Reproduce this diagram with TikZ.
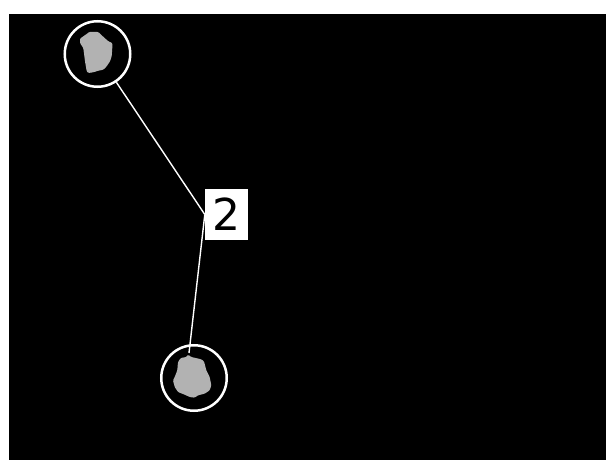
\documentclass[tikz,border=0pt]{standalone}
\usepackage{fontspec}
\newfontfamily\labfont{DejaVu Sans}
\definecolor{blobgray}{RGB}{178,178,178}
\begin{document}
\begin{tikzpicture}[x=1pt,y=-1pt,
  ring/.style={circle,draw=white,line width=2.5pt,minimum size=65.5pt,inner sep=0pt},
  blob/.style={fill=blobgray,draw=none,rounded corners=1pt},
  link/.style={draw=white,line width=1.4pt},
  lab/.style={fill=white,text=black,inner sep=0pt,minimum width=43pt,minimum height=51pt,font=\labfont\fontsize{44}{44}\selectfont}]
\useasboundingbox (0,0) rectangle (606,460);
\fill[white] (0,0) rectangle (606,460);
\fill[black] (9,14) rectangle (606,460);
% blobs
\fill[blob] (89,32) -- (98.3,32) -- (101.7,35.3) -- (108.3,41.3) -- (112.3,43) -- (112.3,48) -- (111.7,56.3) -- (110,61.3) -- (106.7,66.3) -- (103.3,69.7) -- (98.3,70.7) -- (93.3,72.3) -- (88.3,73) -- (86.7,71.3) -- (85,61.3) -- (83.3,48) -- (80,43) -- (80,38.7) -- (83.3,36.3) -- (86.7,34) -- cycle;
\fill[blob] (180.7,358) -- (186.3,357) -- (188,354.7) -- (191.3,357) -- (201.3,359.3) -- (204,361.3) -- (206.3,370.3) -- (209.7,377) -- (211.3,385.3) -- (209.7,390.3) -- (204.7,393.7) -- (198,395.3) -- (194.7,397.7) -- (189.7,397) -- (184.7,394.7) -- (178,392) -- (174.7,387) -- (173,380.3) -- (174.7,377) -- (177.3,370.3) -- (178,362) -- cycle;
% rings
\node[ring] (c1) at (97.5,54) {};
\node[ring] (c2) at (194,378) {};
% label
\node[lab] (l) at (226.5,214.5) {2};
\coordinate (e2) at (189,353);
\draw[link] (c1) -- (l.west);
\draw[link] (l.west) -- (e2);
\end{tikzpicture}
\end{document}
